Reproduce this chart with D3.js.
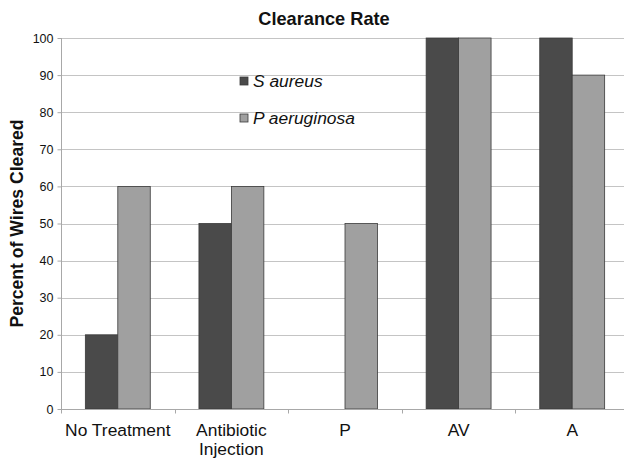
<!DOCTYPE html>
<html><head><meta charset="utf-8">
<script src="https://cdn.jsdelivr.net/npm/d3@7"></script>
<style>body{margin:0;background:#fff;}svg{display:block;font-family:"Liberation Sans",Arial,sans-serif;}</style>
</head><body>
<svg id="c" width="624" height="460"></svg>
<script>
const categories = [["No Treatment"], ["Antibiotic", "Injection"], ["P"], ["AV"], ["A"]];
const seriesNames = ["S aureus", "P aeruginosa"];
const sAureus = [20, 50, 0, 100, 100];
const pAeruginosa = [60, 60, 50, 100, 90];
const yTicks = [0, 10, 20, 30, 40, 50, 60, 70, 80, 90, 100];
const colors = ["#4a4a4a", "#a0a0a0"];

(function () {
const svg = d3.select("#c");
const mLeft = 61, mTop = 38, mBottom = 409, mRight = 629;
const x = d3.scaleBand().domain(d3.range(categories.length)).range([mLeft, mRight]).paddingInner(0).paddingOuter(0);
const y = d3.scaleLinear().domain([0, 100]).range([mBottom, mTop]);
const bw = x.bandwidth();
const barW = bw / 3.5; // Excel gap width 150%
const xs = d3.scaleBand().domain([0, 1]).range([0, 2 * barW]);

// gridlines
svg.append("g").selectAll("line").data(yTicks.filter(d => d > 0)).join("line")
  .attr("x1", mLeft).attr("x2", mRight).attr("y1", d => Math.round(y(d)) + 0.5).attr("y2", d => Math.round(y(d)) + 0.5)
  .attr("stroke", "#c4c4c4").attr("stroke-width", 1);

// bars
const series = [sAureus, pAeruginosa];
series.forEach((vals, si) => {
  svg.append("g").selectAll("rect").data(vals).join("rect")
    .attr("x", (d, i) => x(i) + (bw - 2 * barW) / 2 + xs(si))
    .attr("y", d => y(d))
    .attr("width", barW)
    .attr("height", d => mBottom - y(d))
    .attr("fill", colors[si])
    .attr("stroke", d => d > 0 ? "#3a3a3a" : "none")
    .attr("stroke-width", 0.8);
});

// y axis
const yAxis = d3.axisLeft(y).tickValues(yTicks).tickSize(4).tickPadding(4);
const gy = svg.append("g").attr("transform", `translate(${mLeft + 0.5},0)`).call(yAxis);
gy.select(".domain").attr("stroke", "#a8a8a8").attr("d", `M0,${mTop}V${mBottom}`);
gy.selectAll(".tick line").attr("stroke", "#a8a8a8");
gy.selectAll(".tick text").attr("font-size", 12.5).attr("fill", "#111").attr("font-family", "Liberation Sans, Arial, sans-serif");

// x axis
const xb = d3.scaleLinear().domain([0, categories.length]).range([mLeft, mRight]);
const gx = svg.append("g").attr("transform", `translate(0,${mBottom + 0.5})`);
gx.append("line").attr("x1", mLeft).attr("x2", mRight).attr("stroke", "#a8a8a8");
gx.selectAll("line.t").data(d3.range(categories.length + 1)).join("line").attr("class", "t")
  .attr("x1", d => Math.round(xb(d)) + 0.5).attr("x2", d => Math.round(xb(d)) + 0.5).attr("y1", 0).attr("y2", 4)
  .attr("stroke", "#a8a8a8");
categories.forEach((lines, i) => {
  const t = svg.append("text").attr("x", x(i) + bw / 2).attr("y", 436)
    .attr("text-anchor", "middle").attr("font-size", 17.4).attr("fill", "#111");
  lines.forEach((l, j) => t.append("tspan").attr("x", x(i) + bw / 2).attr("dy", j ? 19 : 0).text(l));
});

// title
svg.append("text").attr("x", 324).attr("y", 25).attr("text-anchor", "middle")
  .attr("font-size", 18.2).attr("font-weight", "bold").attr("fill", "#111").text("Clearance Rate");

// y title
svg.append("text").attr("transform", `translate(23,${(mTop + mBottom) / 2}) rotate(-90)`)
  .attr("text-anchor", "middle").attr("font-size", 17.6).attr("font-weight", "bold").attr("fill", "#111")
  .text("Percent of Wires Cleared");

// legend
const lg = svg.append("g");
seriesNames.forEach((n, i) => {
  const yy = 81 + i * 37;
  lg.append("rect").attr("x", 240).attr("y", yy - 4).attr("width", 8).attr("height", 8)
    .attr("fill", colors[i]).attr("stroke", "#3a3a3a").attr("stroke-width", 0.8);
  lg.append("text").attr("x", 253).attr("y", yy + 6).attr("font-size", 17.4).attr("font-style", "italic")
    .attr("fill", "#111").text(n);
});
})();
</script>
</body></html>
